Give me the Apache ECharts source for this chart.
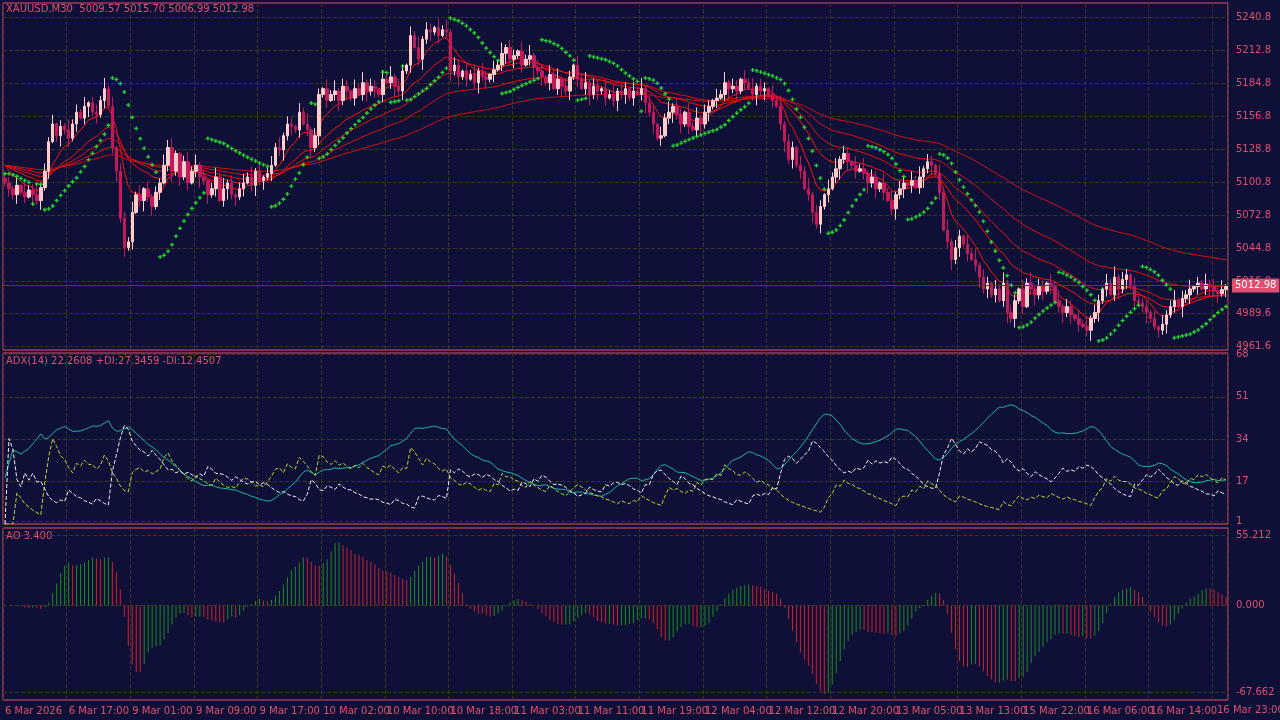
<!DOCTYPE html>
<html><head><meta charset="utf-8">
<script src="https://cdn.jsdelivr.net/npm/echarts@6/dist/echarts.min.js"></script>
<style>html,body{margin:0;padding:0;background:#0e1038}#c{width:1280px;height:720px}</style>
</head><body><div id="c"></div>
<script>
const closes = [
5100,5095,5090,5098,5092,5088,5094,5090,5085,5096,
5110,5135,5150,5140,5148,5145,5138,5150,5160,5155,5165,5168,5160,5158,5170,
5180,5165,5130,5110,5070,5045,5050,5075,
5090,5085,5095,5088,5080,5092,5100,
5115,5130,5110,5125,5105,5118,5100,5110,5115,5105,
5102,5090,5095,5105,5085,5095,5100,5090,5088,5095,
5100,5105,5098,5110,5102,5105,5108,
5115,5130,5128,5140,5150,5148,5145,5160,5150,5145,
5130,5140,5175,5180,5170,
5175,5178,5170,5182,5178,5172,5180,5175,5185,5178,5182,5180,5175,5188,5185,5190,5182,5178,
5195,5200,5225,5215,5205,5222,5230,5228,5232,5225,5230,5228,
5195,5200,5190,5195,5188,5192,5185,5195,5190,5188,5192,5196,
5200,5210,5215,5205,5208,5212,5200,5205,5208,5198,
5195,5190,5185,5192,5180,5188,5182,5178,5190,5200,5188,5180,5185,5175,5182,
5178,5180,5172,5175,5170,5178,5175,5180,5172,5178,5175,5180,5168,5160,
5150,5138,5140,5155,5160,5165,
5158,5150,5160,5148,5145,5155,5150,5160,5165,5170,5172,
5175,5185,5180,5182,5178,5188,5185,5180,5175,5182,5178,5180,5175,5170,5165,
5150,5135,5120,5130,5115,5110,5095,5090,5075,5065,5080,5090,
5095,5105,5112,5120,5125,5118,5115,5110,
5112,5108,5100,5105,5095,5100,5092,5085,5078,5090,5095,5100,
5098,5102,5096,5105,5112,5118,5115,5108,5092,
5060,5050,5035,5045,5055,5048,5040,5035,
5030,5020,5010,5015,5005,5010,5000,5015,4990,
4985,5000,5010,4995,5015,5010,5005,5012,
5008,5015,5012,5000,4995,4990,4995,4988,4985,4980,4978,4975,4985,4990,5000,
5010,5015,5005,5020,5010,5018,5022,5012,5000,
4998,4995,4990,4985,4978,4975,4980,4988,4995,5000,4995,5002,5005,5010,5012,5015,5010,5014,5012,5008,5006,5009.57,5012.98
];
const wickHi = "3425163472536142735261453726154372615243756214637251463725146372514637254163725416372541637254163725416372541637254163725416372541637254163725416372541637254163725416372541637254163725416372541637254163725416372541637254163725416372541637254163725416372541637254163725416372541637254163";
const wickLo = "2536241736251473625147362514736251473625147362514736251473625147362514736251473625147362514736251473625147362514736251473625147362514736251473625147362514736251473625147362514736251473625147362514736251473625147362514736251473625147362514736251473625147362514736251473625147362514736251473";
const tickLabels = ["6 Mar 2026","6 Mar 17:00","9 Mar 01:00","9 Mar 09:00","9 Mar 17:00","10 Mar 02:00","10 Mar 10:00","10 Mar 18:00","11 Mar 03:00","11 Mar 11:00","11 Mar 19:00","12 Mar 04:00","12 Mar 12:00","12 Mar 20:00","13 Mar 05:00","13 Mar 13:00","15 Mar 22:00","16 Mar 06:00","16 Mar 14:00","16 Mar 23:00"];
const priceTicks = [4961.6,4989.6,5016.8,5044.8,5072.8,5100.8,5128.8,5156.8,5184.8,5212.8,5240.8];
const adxTicks = [1,17,34,51,68];
const aoTicks = [-67.662,0,55.212];

const N = closes.length;
const O=[],H=[],L=[],C=closes;
for(let i=0;i<N;i++){
  const o = i===0?5104:closes[i-1];
  O.push(o);
  H.push(Math.max(o,C[i])+ (+wickHi[i%wickHi.length])*1.3);
  L.push(Math.min(o,C[i])- (+wickLo[i%wickLo.length])*1.3);
}
const cats = closes.map((_,i)=>i);
const ohlc = closes.map((c,i)=>[O[i],c,L[i],H[i]]);
function ema(p){const k=2/(p+1);let r=[],v=5120;for(let i=0;i<N;i++){v=i===0?(C[0]+5130)/2:C[i]*k+v*(1-k);r.push(+v.toFixed(2));}return r;}
function sar(){let r=[],up=false,af=0.02,ep=L[0],s=H[0];for(let i=0;i<N;i++){if(i>0){s=s+af*(ep-s);if(up){if(L[i]<s){up=false;s=ep;ep=L[i];af=0.02;}else if(H[i]>ep){ep=H[i];af=Math.min(0.2,af+0.02);}}else{if(H[i]>s){up=true;s=ep;ep=H[i];af=0.02;}else if(L[i]<ep){ep=L[i];af=Math.min(0.2,af+0.02);}}}r.push(+s.toFixed(2));}return r;}
function adx(p){let tr=0,pd=0,md=0,ad=20,A=[],P=[],M=[];for(let i=0;i<N;i++){let t=10,u=0,d=0;if(i>0){t=Math.max(H[i]-L[i],Math.abs(H[i]-C[i-1]),Math.abs(L[i]-C[i-1]));const um=H[i]-H[i-1],dm=L[i-1]-L[i];u=(um>dm&&um>0)?um:0;d=(dm>um&&dm>0)?dm:0;}
 tr=tr-tr/p+t;pd=pd-pd/p+u;md=md-md/p+d;const pi=100*pd/tr,mi=100*md/tr;const dx=100*Math.abs(pi-mi)/Math.max(1e-6,pi+mi);ad=(ad*(p-1)+dx)/p;A.push(+ad.toFixed(2));P.push(+pi.toFixed(2));M.push(+mi.toFixed(2));}return [A,P,M];}
function ao(){const m=H.map((h,i)=>(h+L[i])/2);let r=[];for(let i=0;i<N;i++){const a=m.slice(Math.max(0,i-4),i+1),b=m.slice(Math.max(0,i-33),i+1);r.push(+(a.reduce((x,y)=>x+y)/a.length-b.reduce((x,y)=>x+y)/b.length).toFixed(2));}return r;}
const [ADX,PDI,MDI]=adx(14);
const AO=ao();
const aoData=AO.map((v,i)=>({value:v,itemStyle:{color:(i>0&&v<AO[i-1])?'#d0202a':'#1e8c1e'}}));
const SAR=sar();

const pink='#e0506e', grid='#3a3422';
const mk=(i,t,h)=>({left:3,right:52,top:t,height:h,show:true,borderColor:pink,borderWidth:1,backgroundColor:'transparent'});
function xa(i,showLbl){return {type:'category',gridIndex:i,data:cats,boundaryGap:true,axisLine:{show:false},axisTick:{show:false},
 axisLabel:{show:showLbl,hideOverlap:false,interval:(k)=>k%16===0,formatter:(v,k)=>tickLabels[k/16]||'',color:pink,fontSize:10,fontFamily:'DejaVu Sans',align:'left',margin:6},
 splitLine:{show:true,interval:(k)=>k%16===0,lineStyle:{color:grid,type:'dashed'}}};}
function ya(i,min,max,ticks,dec){return {type:'value',gridIndex:i,position:'right',min,max,scale:true,axisLine:{show:false},
 axisTick:{show:false,customValues:ticks},axisLabel:{customValues:ticks,color:pink,fontSize:10,fontFamily:'DejaVu Sans',margin:8,formatter:v=>dec===null?String(v):v.toFixed(dec)},
 splitLine:{show:true,lineStyle:{color:grid,type:'dashed'}}};}
const line=(d,c,xi,w,t)=>({type:'line',data:d,xAxisIndex:xi,yAxisIndex:xi,symbol:'none',lineStyle:{color:c,width:w||1,type:t||'solid'},silent:true,z:3});
const chart=echarts.init(document.getElementById('c'));
chart.setOption({
 backgroundColor:'#0e1038',animation:false,
 grid:[mk(0,3,347),mk(1,353,171),mk(2,528,172)],
 xAxis:[xa(0,false),xa(1,false),xa(2,true)],
 yAxis:[ya(0,4958.2,5252.7,priceTicks,1),ya(1,0,68.6,adxTicks,null),ya(2,-74,60.7,aoTicks,3)],
 graphic:[
  {type:'text',left:6,top:4,style:{text:'XAUUSD,M30  5009.57 5015.70 5006.99 5012.98',fill:pink,font:'10px DejaVu Sans'}},
  {type:'text',left:6,top:356,style:{text:'ADX(14) 22.2608 +DI:27.3459 -DI:12.4507',fill:pink,font:'10px DejaVu Sans'}},
  {type:'text',left:6,top:531,style:{text:'AO 3.400',fill:pink,font:'10px DejaVu Sans'}},
  {type:'text',left:1217,top:705,style:{text:tickLabels[19],fill:pink,font:'10px DejaVu Sans'}}
 ],
 series:[
  {type:'candlestick',data:ohlc,xAxisIndex:0,yAxisIndex:0,barWidth:3,z:4,
   itemStyle:{color:'#ffcccc',color0:'#c4195a',borderColor:'#ffcccc',borderColor0:'#c4195a',borderWidth:1},
   markLine:{symbol:'none',silent:true,data:[{yAxis:5012.98}],lineStyle:{color:'#5a4020',type:'solid',width:1},
     label:{position:'end',formatter:'5012.98',color:'#fff',backgroundColor:'#e0506e',padding:[2,3],fontSize:10,fontFamily:'DejaVu Sans',distance:4}}},
  line(ema(8),'#ff1010',0), line(ema(21),'#ff1010',0), line(ema(34),'#e81010',0), line(ema(55),'#e01010',0), line(ema(100),'#d01010',0),
  {type:'scatter',data:SAR,xAxisIndex:0,yAxisIndex:0,symbol:'path://M1,0H2V1H3V2H2V3H1V2H0V1H1Z',symbolSize:4,itemStyle:{color:'#30ff30'},silent:true,z:5},
  line(ADX,'#20b2aa',1), line(PDI,'#b8d830',1,1,'dashed'), line(MDI,'#f0f0f0',1,1,'dashed'),
  {type:'bar',data:aoData,xAxisIndex:2,yAxisIndex:2,barWidth:1,silent:true}
 ]
});
</script></body></html>
